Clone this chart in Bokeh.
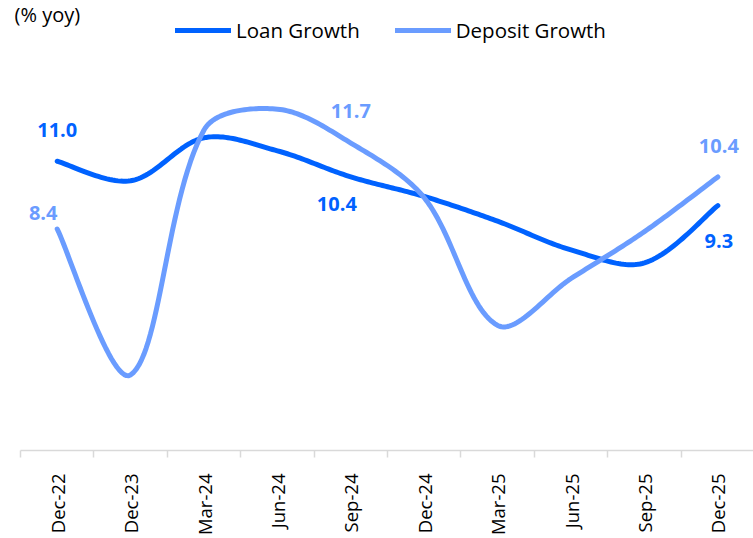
import math
import numpy as np
from bokeh.plotting import figure
from bokeh.models import Range1d, FixedTicker, Legend, LegendItem, ColumnDataSource, Label
from bokeh.core.properties import value
from bokeh.embed import file_html
from bokeh.resources import INLINE

# ---------------- data ----------------
categories = ["Dec-22", "Dec-23", "Mar-24", "Jun-24", "Sep-24",
              "Dec-24", "Mar-25", "Jun-25", "Sep-25", "Dec-25"]
loan_growth = [11.0, 10.25, 11.9, 11.4, 10.4, 9.65, 8.7, 7.6, 7.1, 9.3]
deposit_growth = [8.4, 2.8, 12.2, 13.0, 11.7, 9.6, 4.7, 6.5, 8.3, 10.4]
labelled_points = [0, 4, 9]          # category indices that carry data labels
y_label = "(% yoy)"

# ---------------- styles ----------------
LOAN_C = "#0062FF"
DEP_C = "#6A9CFF"
FONT = "Open Sans"
PX_X = 73.4      # px per category (used for length-weighted smoothing)
PX_Y = 26.06     # px per percentage point
# screen offsets (px) of the data labels, per labelled point
loan_dx = [0, -14, 1]
loan_dy = [-31, 27, 35]
dep_dx = [-14, 0, 1]
dep_dy = [-16, -32, -31]


def smooth(xv, yv, n=30):
    """Excel-like smoothed line: cubic Bezier, handles weighted by segment length."""
    pts = np.column_stack([np.asarray(xv, float) * PX_X, np.asarray(yv, float) * PX_Y])
    m = len(pts)
    out_h, in_h = [], []
    for i in range(m):
        if i == 0:
            T = pts[1] - pts[0]
            out_h.append(pts[0] + T / 6.0); in_h.append(pts[0])
            continue
        if i == m - 1:
            T = pts[-1] - pts[-2]
            in_h.append(pts[-1] - T / 6.0); out_h.append(pts[-1])
            continue
        T = pts[i + 1] - pts[i - 1]
        dp = np.linalg.norm(pts[i] - pts[i - 1])
        dn = np.linalg.norm(pts[i + 1] - pts[i])
        out_h.append(pts[i] + T * dn / (dp + dn) / 3.0)
        in_h.append(pts[i] - T * dp / (dp + dn) / 3.0)
    xs, ys = [], []
    for i in range(m - 1):
        p1, c1, c2, p2 = pts[i], out_h[i], in_h[i + 1], pts[i + 1]
        ts = np.linspace(0, 1, n, endpoint=(i == m - 2))
        for t in ts:
            b = ((1 - t) ** 3) * p1 + 3 * ((1 - t) ** 2) * t * c1 + 3 * (1 - t) * t * t * c2 + t ** 3 * p2
            xs.append(b[0] / PX_X); ys.append(b[1] / PX_Y)
    return xs, ys


xi = list(range(len(categories)))
X0, X1 = -0.582, 9.486

p = figure(width=753, height=538, output_backend="svg", toolbar_location=None,
           x_range=Range1d(X0, X1), y_range=Range1d(-0.1, 17.17),
           min_border_left=14, min_border_right=0, min_border_top=0, min_border_bottom=88,
           y_axis_location=None)
p.outline_line_color = None
p.grid.visible = False
p.background_fill_color = "white"
p.border_fill_color = "white"

lx, ly = smooth(xi, loan_growth)
dx_, dy_ = smooth(xi, deposit_growth)
r_loan = p.line(lx, ly, line_color=LOAN_C, line_width=5, line_cap="round", line_join="round")
r_dep = p.line(dx_, dy_, line_color=DEP_C, line_width=5, line_cap="round", line_join="round")

# data labels
loan_src = ColumnDataSource(dict(
    x=[xi[i] for i in labelled_points],
    y=[loan_growth[i] for i in labelled_points],
    t=["%.1f" % loan_growth[i] for i in labelled_points],
    ox=loan_dx, oy=loan_dy))
dep_src = ColumnDataSource(dict(
    x=[xi[i] for i in labelled_points],
    y=[deposit_growth[i] for i in labelled_points],
    t=["%.1f" % deposit_growth[i] for i in labelled_points],
    ox=dep_dx, oy=dep_dy))
for src, col in ((loan_src, LOAN_C), (dep_src, DEP_C)):
    p.text(x="x", y="y", text="t", x_offset="ox", y_offset="oy", source=src,
           text_align="center", text_baseline="middle", text_color=col,
           text_font=value(FONT), text_font_style="bold", text_font_size="20px")

# x axis
ax = p.xaxis[0]
ax.bounds = (-0.5, X1)
ax.ticker = FixedTicker(ticks=xi, minor_ticks=[i - 0.5 for i in range(len(categories) + 1)])
ax.major_label_overrides = {i: c for i, c in enumerate(categories)}
ax.major_label_orientation = math.pi / 2
ax.major_label_text_font = FONT
ax.major_label_text_font_size = "18.5px"
ax.major_label_text_color = "#000000"
ax.major_tick_line_color = None
ax.major_tick_out = 0
ax.major_tick_in = 0
ax.minor_tick_line_color = "#D9D9D9"
ax.minor_tick_line_width = 1.5
ax.minor_tick_out = 7
ax.minor_tick_in = 0
ax.axis_line_color = "#D9D9D9"
ax.axis_line_width = 1.5
ax.major_label_standoff = 16

# unit label
p.add_layout(Label(x=X0, y=17.17, text=y_label, x_offset=0, y_offset=0,
                   text_align="left", text_baseline="top", text_font=FONT,
                   text_font_size="20px", text_color="#000000"))

legend = Legend(items=[LegendItem(label="Loan Growth", renderers=[r_loan]),
                       LegendItem(label="Deposit Growth", renderers=[r_dep])],
                orientation="horizontal", location=(161, 406),
                glyph_width=56, glyph_height=20, label_standoff=5, spacing=35,
                padding=0, margin=0, border_line_color=None, background_fill_alpha=0,
                label_text_font=FONT, label_text_font_size="20.5px", label_text_color="#000000")
p.add_layout(legend)

open("out.html", "w").write(file_html(p, INLINE))
